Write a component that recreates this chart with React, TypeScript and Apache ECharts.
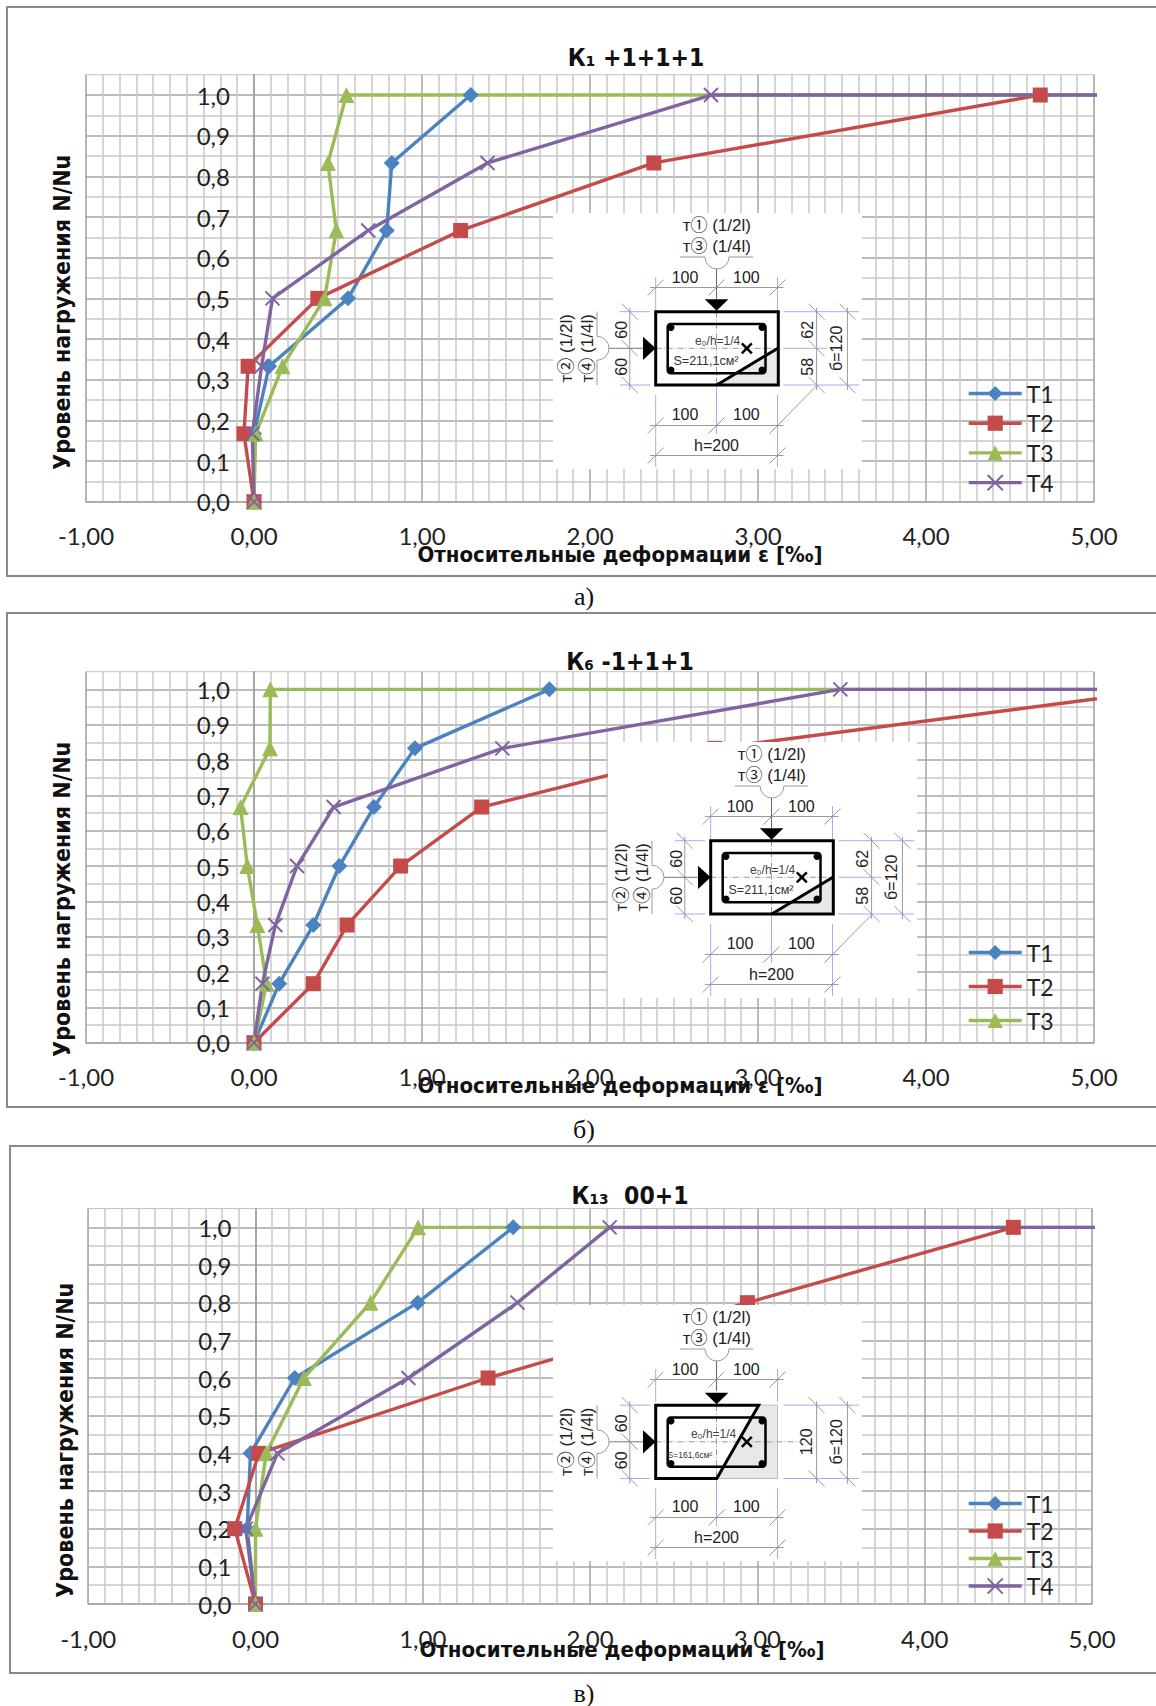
import React, { useEffect, useRef } from "react";
import * as echarts from "echarts";

const seriesNames = ["T1", "T2", "T3", "T4"];
const colors = ["#4a83bf", "#c54b4b", "#9bbb59", "#8064a2"];

// load levels (the trailing repeated 1 is the failure plateau running past the axis end)
const levelsAB = [0, 0.167, 0.333, 0.5, 0.667, 0.833, 1, 1];
const levelsC = [0, 0.2, 0.4, 0.6, 0.8, 1, 1];

const aT1 = [0, 0, 0.09, 0.56, 0.79, 0.82, 1.29];
const aT2 = [0, -0.06, -0.035, 0.38, 1.23, 2.38, 4.68];
const aT3 = [0, 0.01, 0.17, 0.42, 0.49, 0.44, 0.55, 5.6];
const aT4 = [0, -0.01, 0.045, 0.11, 0.68, 1.39, 2.72, 5.6];

const bT1 = [0, 0.15, 0.353, 0.508, 0.714, 0.958, 1.758];
const bT2 = [0, 0.353, 0.554, 0.873, 1.355, 2.744, 5.45];
const bT3 = [0, 0.075, 0.02, -0.04, -0.08, 0.095, 0.097, 5.6];
const bT4 = [0, 0.05, 0.127, 0.256, 0.474, 1.478, 3.49, 5.6];

const cT1 = [0, -0.05, -0.03, 0.235, 0.97, 1.54];
const cT2 = [0, -0.124, 0.02, 1.39, 2.94, 4.53];
const cT3 = [0, 0, 0.064, 0.289, 0.687, 0.972, 5.6];
const cT4 = [0, -0.058, 0.131, 0.914, 1.566, 2.117, 5.6];

const titles = ["К₁ +1+1+1", "К₆ -1+1+1", "К₁₃  00+1"];
const captions = ["а)", "б)", "в)"];
const xName = "Относительные деформации ε [‰]";
const yName = "Уровень нагружения N/Nu";

const zip = (xs: number[], ys: number[]) => xs.map((x, i) => [x, ys[i]]);

const BOLD = '"DejaVu Sans Condensed","DejaVu Sans"';
const TICK = 'Lato,"Open Sans",sans-serif';
const ARIAL = '"Liberation Sans","Noto Sans CJK SC",sans-serif';
const crossSymbol = "path://M0 0L10 10M10 0L0 10";

const GREY = "#9a9a9a";
const BLUE = "#a9a9f5";
const Z = 100;

const L = (x1: number, y1: number, x2: number, y2: number, stroke = GREY, lineWidth = 1, lineDash?: number[]) => ({
  type: "line",
  silent: true,
  z: Z,
  shape: { x1, y1, x2, y2 },
  style: { stroke, lineWidth, lineDash },
});
const T = (text: string, x: number, y: number, size: number, rotation = 0, fill = "#222") => ({
  type: "text",
  silent: true,
  z: Z,
  x,
  y,
  rotation,
  style: {
    text,
    fill,
    font: `${size}px ${ARIAL}`,
    textAlign: "center",
    textVerticalAlign: "middle",
  },
});
const slash = (x: number, y: number) => L(x - 8, y + 8, x + 8, y - 8);
const back = (x: number, y: number) => L(x - 8, y - 8, x + 8, y + 8);
const dot = (cx: number, cy: number) => ({
  type: "circle",
  silent: true,
  z: Z,
  shape: { cx, cy, r: 3.5 },
  style: { fill: "#000" },
});

function inset(x: number, y: number, kind: "tension" | "compression") {
  const c = kind === "compression";
  const dy = c ? 1.5 : 0;
  const top = 98.7 + dy;
  const bot = 172 + dy;
  const mid = 135.3 + dy;
  const children: any[] = [
    { type: "rect", silent: true, z: Z, shape: { x: 0, y: 0, width: 309, height: 256 }, style: { fill: "#fff" } },
    T("т① (1/2l)", 163.8, 12, 17),
    T("т③ (1/4l)", 163.8, 33, 17),
    L(127, 44, 152, 44),
    L(176, 44, 200, 44),
    { type: "arc", silent: true, z: Z, shape: { cx: 164, cy: 44, r: 12, startAngle: 0, endAngle: Math.PI, clockwise: true }, style: { stroke: GREY, fill: "none", lineWidth: 1 } },
    L(163.5, 56, 163.5, 86, "#666"),
    // upper dimension
    L(102.7, 64, 102.7, 97, BLUE),
    L(224.5, 64, 224.5, 97, BLUE),
    L(97, 74.5, 230.5, 74.5),
    slash(102.7, 74.5),
    slash(163.5, 74.5),
    slash(224.5, 74.5),
    T("100", 132, 64.5, 16),
    T("100", 193.4, 64.5, 16),
    // lower dimensions
    L(102.7, bot + 10, 102.7, 254, BLUE),
    L(224.5, bot + 10, 224.5, 254, BLUE),
    L(163.5, bot, 163.5, 221, BLUE),
    L(97, 212.5, 230.5, 212.5),
    slash(102.7, 212.5),
    slash(163.5, 212.5),
    slash(224.5, 212.5),
    T("100", 132, 201, 16),
    T("100", 193.4, 201, 16),
    L(97, 242.5, 230.5, 242.5),
    slash(102.7, 242.5),
    slash(224.5, 242.5),
    T("h=200", 163.5, 232, 16),
    // blue extension lines
    L(67, top, 97, top, BLUE),
    L(67, bot, 97, bot, BLUE),
    L(230.5, top, 306, top, BLUE),
    L(230.5, bot, 306, bot, BLUE),
    // left dimension
    L(76.8, top - 4, 76.8, bot + 5),
    back(76.8, top),
    back(76.8, mid),
    back(76.8, bot),
    T("60", 68, mid - 18.5, 16, Math.PI / 2),
    T("60", 68, mid + 18.5, 16, Math.PI / 2),
    // left bracket
    L(44, top, 44, mid - 12),
    L(44, mid + 12, 44, bot),
    { type: "arc", silent: true, z: Z, shape: { cx: 44, cy: mid, r: 12, startAngle: -Math.PI / 2, endAngle: Math.PI / 2, clockwise: true }, style: { stroke: GREY, fill: "none", lineWidth: 1 } },
    T("т② (1/2l)", 13.7, mid, 17, Math.PI / 2),
    T("т④ (1/4l)", 34, mid, 17, Math.PI / 2),
    L(56, mid, 90, mid, "#777"),
    // right dimensions
    L(263.6, top - 4, 263.6, bot + 5),
    back(263.6, top),
    back(263.6, bot),
    L(294.4, top - 4, 294.4, bot + 5),
    back(294.4, top),
    back(294.4, bot),
    T("б=120", 283.6, mid, 16, Math.PI / 2),
  ];
  if (c) {
    children.push(
      T("120", 253, mid, 16, Math.PI / 2),
      { type: "polygon", silent: true, z: Z, shape: { points: [[163.8, bot], [205.7, top], [224.5, top], [224.5, bot]] }, style: { fill: "#e8e8e8", stroke: "#bbb", lineWidth: 1 } }
    );
  } else {
    children.push(
      T("62", 254.4, mid - 18.5, 16, Math.PI / 2),
      T("58", 254.4, mid + 18.5, 16, Math.PI / 2),
      L(230.5, mid, 274, mid, BLUE),
      back(263.6, mid),
      L(264.4, bot, 224.5, 212.5),
      { type: "polygon", silent: true, z: Z, shape: { points: [[163.8, bot], [225.3, 135], [225.3, bot]] }, style: { fill: "#e8e8e8" } }
    );
  }
  // centre lines
  children.push(
    L(163.5, top, 163.5, bot, "#999", 1, [6, 2, 1, 2]),
    L(102.7, mid, c ? 248 : 225.3, mid, "#999", 1, [6, 2, 1, 2])
  );
  // section outline
  children.push(
    { type: "rect", silent: true, z: Z, shape: { x: 114.7, y: 111 + dy, width: 97.8, height: 49.3, r: 3 }, style: { fill: "none", stroke: "#000", lineWidth: 2.5 } },
    dot(118, 114.5 + dy),
    dot(209, 114.5 + dy),
    dot(118, 157 + dy),
    dot(209, 157 + dy)
  );
  if (c) {
    children.push(
      { type: "polygon", silent: true, z: Z, shape: { points: [[102.7, top], [205.7, top], [163.8, bot], [102.7, bot]] }, style: { fill: "none", stroke: "#000", lineWidth: 3 } }
    );
  } else {
    children.push(
      { type: "rect", silent: true, z: Z, shape: { x: 102.7, y: top, width: 122.6, height: bot - top }, style: { fill: "none", stroke: "#000", lineWidth: 3 } },
      L(163.8, bot, 225.3, 135, "#000", 3)
    );
  }
  children.push(
    { type: "polygon", silent: true, z: Z, shape: { points: [[151.8, 86.3 + dy], [175.4, 86.3 + dy], [163.6, 97.7 + dy]] }, style: { fill: "#000" } },
    { type: "polygon", silent: true, z: Z, shape: { points: [[90, mid - 11.6], [90, mid + 11.6], [102.7, mid]] }, style: { fill: "#000" } },
    L(188.8, mid - 5, 198.8, mid + 5, "#000", 2.5),
    L(188.8, mid + 5, 198.8, mid - 5, "#000", 2.5),
    T("e₀/h=1/4", c ? 160.6 : 164.6, mid - 7.6, 12, 0, "#444"),
    c
      ? T("S=161,6см²", 137, mid + 13, 8.5, 0, "#333")
      : T("S=211,1см²", 153, mid + 12.7, 12.5, 0, "#333")
  );
  return { type: "group", x, y, z: Z, children };
}

type Panel = {
  grid: { left: number; top: number; width: number; height: number };
  levels: number[];
  data: number[][];
  titleX: number;
  titleY: number;
  xGap: number;
  xShift: number;
  yGap: number;
  yShift: number;
  zeroOffset: number;
  legendNames: string[];
  legendTop: number;
  legendGap: number;
};

const panels: Panel[] = [
  {
    grid: { left: 86, top: 74.7, width: 1008, height: 427 },
    levels: levelsAB,
    data: [aT1, aT2, aT3, aT4],
    titleX: 636,
    titleY: 45,
    xGap: 42,
    xShift: 60,
    yGap: 181,
    yShift: 48,
    zeroOffset: 168,
    legendNames: seriesNames,
    legendTop: 382,
    legendGap: 6.7,
  },
  {
    grid: { left: 86, top: 671.7, width: 1008, height: 371 },
    levels: levelsAB,
    data: [bT1, bT2, bT3, bT4],
    titleX: 630,
    titleY: 649,
    xGap: 32,
    xShift: 60,
    yGap: 181,
    yShift: 84,
    zeroOffset: 168,
    legendNames: seriesNames.slice(0, 3),
    legendTop: 941,
    legendGap: 11,
  },
  {
    grid: { left: 88.2, top: 1208.5, width: 1003.8, height: 395.5 },
    levels: levelsC,
    data: [cT1, cT2, cT3, cT4],
    titleX: 630,
    titleY: 1183,
    xGap: 34,
    xShift: 64,
    yGap: 179,
    yShift: 68,
    zeroOffset: 167.3,
    legendNames: seriesNames,
    legendTop: 1492,
    legendGap: 4.5,
  },
];

const symbols = ["diamond", "rect", "triangle", crossSymbol];
const symbolSizes = [16, 15, 16, 14];

function buildOption() {
  const series: any[] = [];
  panels.forEach((p, pi) => {
    p.data.forEach((xs, si) => {
      series.push({
        type: "line",
        name: seriesNames[si],
        xAxisIndex: pi,
        yAxisIndex: pi,
        data: zip(xs, p.levels),
        symbol: symbols[si],
        symbolSize: symbolSizes[si],
        showSymbol: true,
        showAllSymbol: true,
        lineStyle: { color: colors[si], width: 3.4 },
        itemStyle:
          si === 3
            ? { color: colors[si], borderColor: colors[si], borderWidth: 2 }
            : { color: colors[si] },
      });
    });
  });
  const tickFont = { fontFamily: TICK, fontSize: 24, color: "#222" };
  const nameFont = { fontFamily: BOLD, fontWeight: "bold" as const, color: "#111" };
  return {
    animation: false,
    backgroundColor: "#fff",
    title: panels.map((p, i) => ({
      text: titles[i],
      left: p.titleX,
      top: p.titleY,
      textAlign: "center",
      padding: 0,
      textStyle: { fontFamily: BOLD, fontWeight: "bold", fontSize: 24.5, color: "#111" },
    })),
    legend: panels.map((p) => ({
      orient: "vertical",
      left: 967,
      top: p.legendTop,
      padding: 0,
      data: p.legendNames,
      itemWidth: 53,
      itemHeight: 19,
      itemGap: p.legendGap,
      lineStyle: { width: 3.4 },
      textStyle: { ...tickFont, fontSize: 23 },
      selectedMode: false,
    })),
    grid: panels.map((p) => ({
      ...p.grid,
      show: true,
      backgroundColor: "transparent",
      borderColor: "#c4c4c4",
      borderWidth: 1,
      containLabel: false,
      outerBoundsMode: "none",
    })),
    xAxis: panels.map((p, i) => ({
      type: "value",
      gridIndex: i,
      min: -1,
      max: 5,
      interval: 1,
      axisLine: { show: true, onZero: false, lineStyle: { color: "#a8a8a8", width: 1.5 } },
      axisTick: { show: false },
      minorTick: { show: false, splitNumber: 10 },
      minorSplitLine: { show: true, lineStyle: { color: "#c8c8c8", width: 1.5 } },
      splitLine: { show: true, lineStyle: { color: "#a6a6a6", width: 1.5 } },
      axisLabel: {
        ...tickFont,
        margin: 22,
        formatter: (v: number) => v.toFixed(2).replace(".", ","),
      },
      name: xName,
      nameLocation: "middle",
      nameGap: p.xGap,
      nameMoveOverlap: false,
      nameTextStyle: { ...nameFont, fontSize: 22, padding: [0, 0, 0, p.xShift] },
    })),
    yAxis: panels.map((p, i) => ({
      type: "value",
      gridIndex: i,
      min: 0,
      max: 1.05,
      interval: 0.1,
      position: "left",
      offset: -p.zeroOffset,
      axisLine: { show: true, onZero: false, lineStyle: { color: "#a0a0a0", width: 1.5 } },
      axisTick: { show: false },
      minorTick: { show: false, splitNumber: 2 },
      minorSplitLine: { show: true, lineStyle: { color: "#c8c8c8", width: 1.5 } },
      splitLine: { show: true, showMaxLine: false, lineStyle: { color: "#a6a6a6", width: 1.5 } },
      axisLabel: {
        ...tickFont,
        margin: 24,
        showMaxLabel: false,
        formatter: (v: number) =>
          Math.abs(v * 10 - Math.round(v * 10)) < 0.01 ? v.toFixed(1).replace(".", ",") : "",
      },
      name: yName,
      nameLocation: "middle",
      nameGap: p.yGap,
      nameMoveOverlap: false,
      nameTextStyle: { ...nameFont, fontSize: 23, padding: [0, p.yShift, 0, 0] },
    })),
    series,
    graphic: {
      elements: [
        { type: "rect", silent: true, z: Z, shape: { x: 7, y: 7, width: 1170, height: 569 }, style: { fill: "none", stroke: "#8a8a8a", lineWidth: 2 } },
        { type: "rect", silent: true, z: Z, shape: { x: 7, y: 613, width: 1170, height: 494 }, style: { fill: "none", stroke: "#8a8a8a", lineWidth: 2 } },
        { type: "rect", silent: true, z: Z, shape: { x: 10, y: 1146, width: 1170, height: 527 }, style: { fill: "none", stroke: "#8a8a8a", lineWidth: 2 } },
        ...captions.map((text, i) => ({
          type: "text",
          silent: true,
          z: Z,
          x: 584,
          y: [596, 1129, 1693][i],
          style: {
            text,
            fill: "#111",
            font: '26px "Liberation Serif"',
            textAlign: "center",
            textVerticalAlign: "middle",
          },
        })),
        inset(553, 213, "tension"),
        inset(608, 742, "tension"),
        inset(553, 1305, "compression"),
      ],
    },
  };
}

export default function App() {
  const ref = useRef<HTMLDivElement>(null);
  useEffect(() => {
    const chart = echarts.init(ref.current!, undefined, { renderer: "svg" });
    chart.setOption(buildOption() as any);
    return () => chart.dispose();
  }, []);
  return <div ref={ref} style={{ position: "absolute", left: 0, top: 0, width: 1156, height: 1706 }} />;
}
